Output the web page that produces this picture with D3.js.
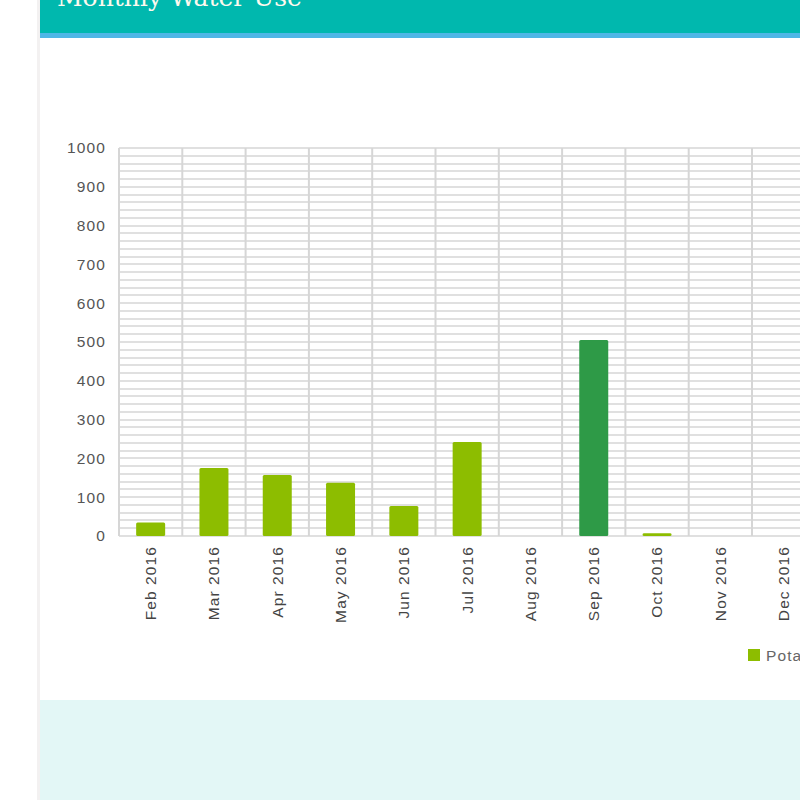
<!DOCTYPE html>
<html>
<head>
<meta charset="utf-8">
<script src="https://cdn.jsdelivr.net/npm/d3@7"></script>
<style>
  html, body { margin: 0; padding: 0; background: #fff; overflow: hidden; }
  #page { position: relative; width: 800px; height: 800px; overflow: hidden; }
  svg { display: block; }
</style>
</head>
<body>
<div id="page"></div>
<script>
// monthly water use
var months = ["Feb 2016", "Mar 2016", "Apr 2016", "May 2016", "Jun 2016", "Jul 2016",
              "Aug 2016", "Sep 2016", "Oct 2016", "Nov 2016", "Dec 2016"];
var usage = [35, 175, 157, 137, 77, 242, 0, 505, 7, 0, 0];
var highlight = ["Sep 2016"];
var yTicks = [0, 100, 200, 300, 400, 500, 600, 700, 800, 900, 1000];
var seriesNames = ["Potable"];

var W = 800, H = 800;
var labelFont = "'Liberation Sans', Arial, sans-serif";
var svg = d3.select("#page").append("svg")
  .attr("width", W)
  .attr("height", H);

// page frame
svg.append("rect").attr("x", 0).attr("y", 0).attr("width", W).attr("height", H).attr("fill", "#fff");
svg.append("rect").attr("x", 37).attr("y", 0).attr("width", 3).attr("height", H).attr("fill", "#f3f1f1");

// header band
svg.append("rect").attr("x", 40).attr("y", 0).attr("width", W - 40).attr("height", 34).attr("fill", "#00b8ae");
svg.append("rect").attr("x", 40).attr("y", 33).attr("width", W - 40).attr("height", 5).attr("fill", "#4fb7e6");
svg.append("text")
  .attr("x", 57)
  .attr("y", 6)
  .attr("fill", "#fdf9ee")
  .style("font-family", "'DejaVu Serif', serif")
  .style("font-size", "25px")
  .text("Monthly Water Use");

// bottom panel
svg.append("rect").attr("x", 40).attr("y", 700).attr("width", W - 40).attr("height", 100).attr("fill", "#e3f7f6");

// chart
var plotLeft = 119, plotTop = 148, plotBottom = 536;
var x = d3.scaleBand().domain(months).range([plotLeft, plotLeft + 63.3 * months.length]).paddingInner(0).paddingOuter(0);
var y = d3.scaleLinear().domain([0, 1000]).range([plotBottom, plotTop]);

var g = svg.append("g");

// minor horizontal grid every 20
var minor = d3.range(0, 1001, 20);
g.selectAll("line.hgrid")
  .data(minor)
  .enter().append("line")
  .attr("class", "hgrid")
  .attr("x1", plotLeft).attr("x2", x.range()[1])
  .attr("y1", function(d) { return Math.round(y(d)); })
  .attr("y2", function(d) { return Math.round(y(d)); })
  .attr("stroke", "#e0e0e0")
  .attr("stroke-width", 2);

// vertical grid at band edges
var edges = months.map(function(m) { return x(m); }).concat([x.range()[1]]);
g.selectAll("line.vgrid")
  .data(edges)
  .enter().append("line")
  .attr("class", "vgrid")
  .attr("x1", function(d) { return d; }).attr("x2", function(d) { return d; })
  .attr("y1", plotTop).attr("y2", plotBottom)
  .attr("stroke", "#d6d6d6")
  .attr("stroke-width", 2);

// bars
var barW = 29;
g.selectAll("rect.bar")
  .data(months.map(function(m, i) { return { m: m, v: usage[i] }; }).filter(function(d) { return d.v > 0; }))
  .enter().append("rect")
  .attr("class", "bar")
  .attr("x", function(d) { return x(d.m) + x.bandwidth() / 2 - barW / 2; })
  .attr("y", function(d) { return y(d.v); })
  .attr("width", barW)
  .attr("height", function(d) { return plotBottom - y(d.v); })
  .attr("rx", 1.5)
  .attr("fill", function(d) { return highlight.indexOf(d.m) >= 0 ? "#2e9a47" : "#8dbd00"; });

// y axis labels
var yAxis = d3.axisLeft(y).tickValues(yTicks).tickFormat(d3.format("d")).tickSize(0).tickPadding(0);
var ya = g.append("g").attr("transform", "translate(106,0)").call(yAxis);
ya.select(".domain").remove();
ya.selectAll("text")
  .attr("fill", "#555")
  .style("font-family", labelFont)
  .style("font-size", "15.5px")
  .style("letter-spacing", "1.1px");

// x axis labels, rotated
var xAxis = d3.axisBottom(x).tickSize(0).tickPadding(0);
var xa = g.append("g").attr("transform", "translate(0," + (plotBottom + 10) + ")").call(xAxis);
xa.select(".domain").remove();
xa.selectAll("text")
  .attr("transform", "rotate(-90)")
  .attr("x", 0)
  .attr("y", 0)
  .attr("dy", "0.35em")
  .attr("text-anchor", "end")
  .attr("fill", "#444")
  .style("font-family", labelFont)
  .style("font-size", "15.5px")
  .style("letter-spacing", "1.1px");

// legend
var lg = svg.append("g").attr("transform", "translate(748,649)");
lg.selectAll("rect").data(seriesNames).enter().append("rect")
  .attr("width", 12).attr("height", 12).attr("fill", "#8dbd00");
lg.selectAll("text").data(seriesNames).enter().append("text")
  .attr("x", 18).attr("y", 12)
  .attr("fill", "#666")
  .style("font-family", labelFont)
  .style("font-size", "15.5px")
  .style("letter-spacing", "1.1px")
  .text(function(d) { return d; });
</script>
</body>
</html>
